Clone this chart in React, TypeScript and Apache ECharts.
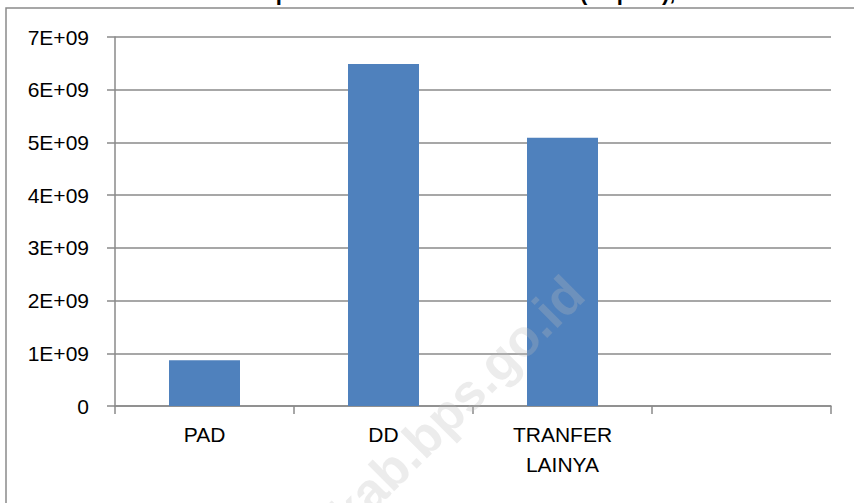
import React, { useEffect, useRef } from "react";
import * as echarts from "echarts";

const TITLE = "Pendapatan Desa Menurut Sumber (Rupiah), 2019";
const categories = ["PAD", "DD", "TRANFER\nLAINYA", ""];
const values: (number | null)[] = [0.87e9, 6.49e9, 5.09e9, null];
const yTicks = [0, 1e9, 2e9, 3e9, 4e9, 5e9, 6e9, 7e9];
const WATERMARK = "kab.bps.go.id";

const FONT = "'Liberation Sans', Arial, sans-serif";
const GRAY = "#8a8a8a";

export default function App() {
  const ref = useRef<HTMLDivElement>(null);
  useEffect(() => {
    document.body.style.margin = "0";
    const chart = echarts.init(ref.current!, undefined, { renderer: "svg" });
    chart.setOption({
      animation: false,
      backgroundColor: "#ffffff",
      grid: { left: 115, right: 23, top: 37, bottom: 97 },
      graphic: [
        {
          type: "rect",
          z: -10,
          shape: { x: 6, y: 8, width: 900, height: 600 },
          style: { fill: "none", stroke: GRAY, lineWidth: 1.5 },
        },
        {
          type: "text",
          z: 100,
          x: 575,
          y: 285,
          rotation: Math.PI / 4,
          style: {
            text: WATERMARK,
            font: `bold 52px ${FONT}`,
            fill: "rgba(185,185,185,0.28)",
            align: "right",
            verticalAlign: "middle",
          },
        },
        {
          type: "text",
          x: 470,
          y: -19,
          style: {
            text: TITLE,
            font: `bold 22px ${FONT}`,
            fill: "#000",
            align: "center",
            verticalAlign: "top",
          },
        },
      ],
      xAxis: {
        type: "category",
        data: categories,
        axisLine: { show: true, lineStyle: { color: GRAY, width: 1.5 } },
        axisTick: { show: true, length: 8, lineStyle: { color: GRAY, width: 1.5 } },
        axisLabel: {
          color: "#000",
          fontFamily: FONT,
          fontSize: 21,
          lineHeight: 30,
          margin: 13,
          interval: 0,
        },
        splitLine: { show: false },
      },
      yAxis: {
        type: "value",
        min: yTicks[0],
        max: yTicks[yTicks.length - 1],
        interval: 1e9,
        axisLine: { show: true, lineStyle: { color: GRAY, width: 1.5 } },
        axisTick: { show: true, length: 8, lineStyle: { color: GRAY, width: 1.5 } },
        axisLabel: {
          color: "#000",
          fontFamily: FONT,
          fontSize: 21,
          margin: 26,
          formatter: (v: number) => (v === 0 ? "0" : `${Math.round(v / 1e9)}E+09`),
        },
        splitLine: { show: true, lineStyle: { color: GRAY, width: 1.5 } },
      },
      series: [
        {
          type: "bar",
          data: values,
          barWidth: 71,
          itemStyle: { color: "#4f81bd" },
        },
      ],
    });
    return () => chart.dispose();
  }, []);
  return (
    <div
      ref={ref}
      style={{ position: "absolute", left: 0, top: 0, width: 854, height: 503 }}
    />
  );
}
